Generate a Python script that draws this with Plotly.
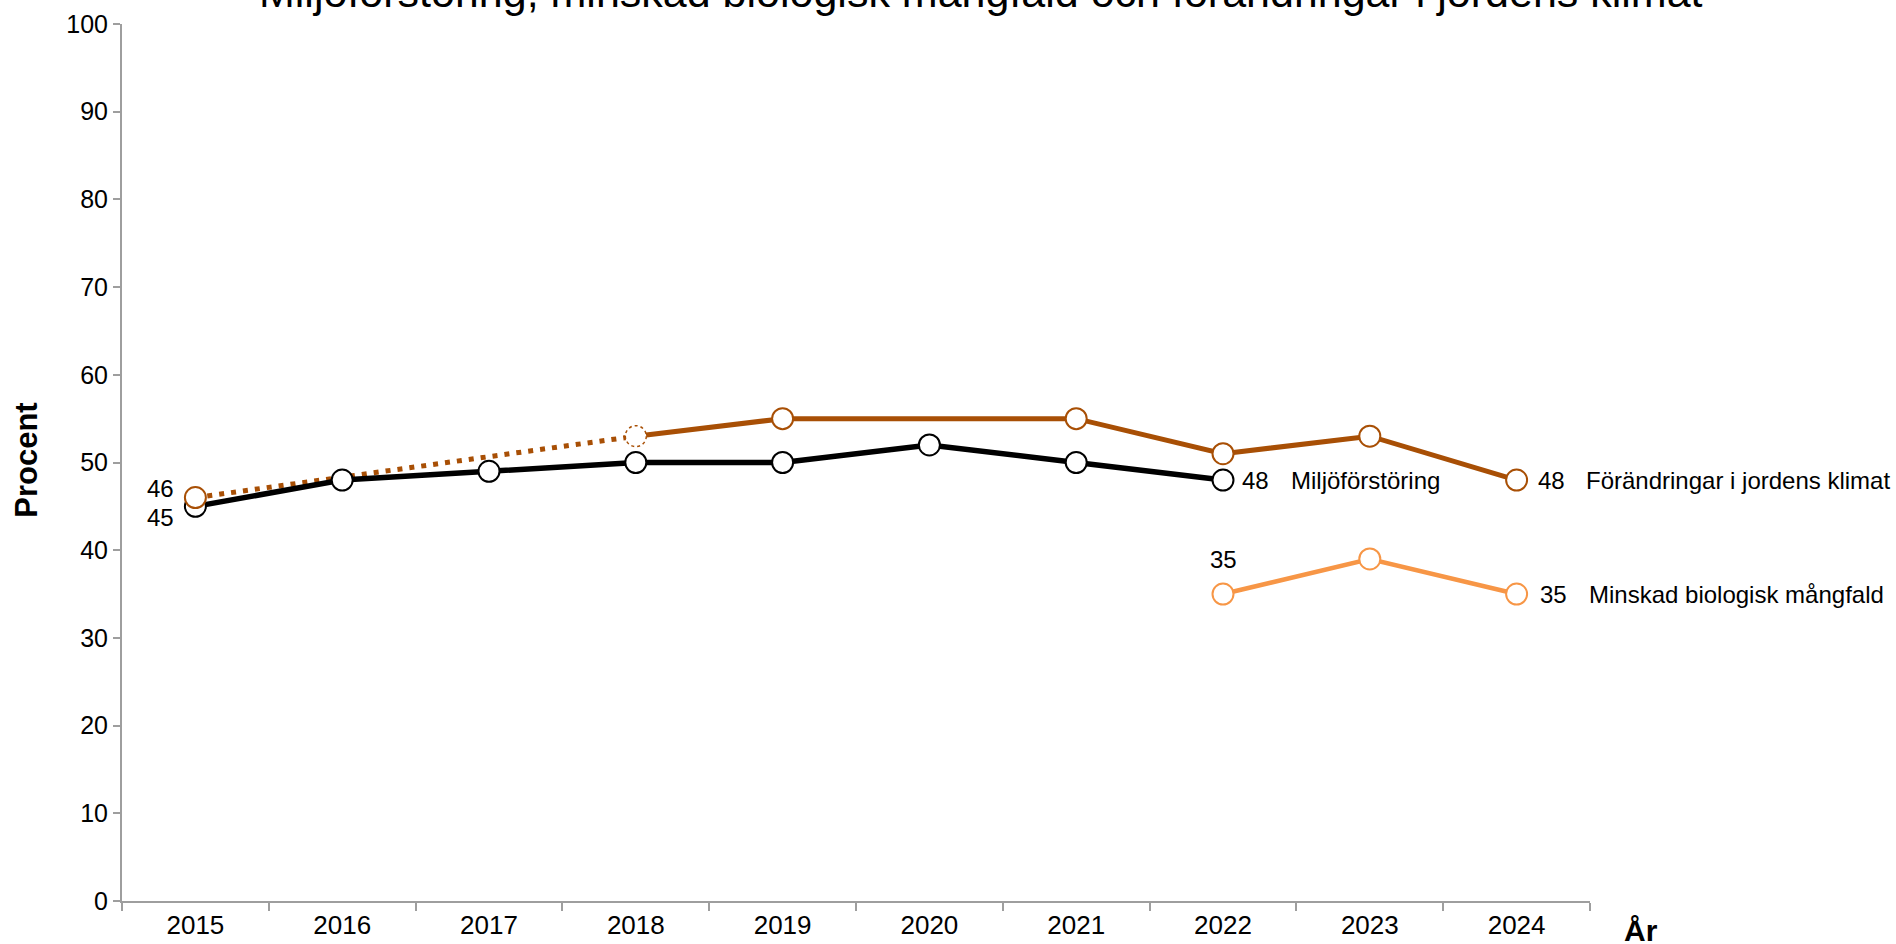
import plotly.graph_objects as go

years = ["2015", "2016", "2017", "2018", "2019", "2020", "2021", "2022", "2023", "2024"]
miljo = [45, 48, 49, 50, 50, 52, 50, 48, None, None]
klimat = [46, None, None, 53, 55, None, 55, 51, 53, 48]
mangfald = [None, None, None, None, None, None, None, 35, 39, 35]

name_miljo = "Miljöförstöring"
name_klimat = "Förändringar i jordens klimat"
name_mangfald = "Minskad biologisk mångfald"
title_text = "Miljöförstöring, minskad biologisk mångfald och förändringar i jordens klimat"

BLACK = "#000000"
BROWN = "#A84F05"
ORANGE = "#F79646"
AXIS = "#9E9E9E"
FONT = "Liberation Sans, Arial, sans-serif"

split = 3  # index of first survey of the solid brown series (2018)

fig = go.Figure()

# Dotted brown segment (2015-2018)
fig.add_trace(go.Scatter(
    x=years[:split + 1], y=klimat[:split + 1], mode="lines", connectgaps=True,
    line=dict(color=BROWN, width=5, dash="5px,7px"), hoverinfo="skip", showlegend=False))

# Black series
fig.add_trace(go.Scatter(
    x=years, y=miljo, mode="lines+markers", name=name_miljo,
    line=dict(color=BLACK, width=5.5),
    marker=dict(size=21, color="white", line=dict(color=BLACK, width=2)), showlegend=False))

# Solid brown segment (2018-2024)
fig.add_trace(go.Scatter(
    x=years[split:], y=klimat[split:], mode="lines", connectgaps=True,
    line=dict(color=BROWN, width=5), hoverinfo="skip", showlegend=False))
fig.add_trace(go.Scatter(
    x=[y for i, y in enumerate(years) if klimat[i] is not None and i != split],
    y=[v for i, v in enumerate(klimat) if v is not None and i != split],
    mode="markers", name=name_klimat,
    marker=dict(size=21, color="white", line=dict(color=BROWN, width=2)), showlegend=False))

# Light orange series
fig.add_trace(go.Scatter(
    x=years, y=mangfald, mode="lines+markers", name=name_mangfald,
    line=dict(color=ORANGE, width=4.5),
    marker=dict(size=21, color="white", line=dict(color=ORANGE, width=2)), showlegend=False))

# Dotted-outline marker at 2018 for brown series
fig.add_shape(type="circle", xref="x", yref="y", xsizemode="pixel", ysizemode="pixel",
              xanchor=split, yanchor=klimat[split], x0=-10.5, x1=10.5, y0=-10.5, y1=10.5,
              line=dict(color=BROWN, width=1.5, dash="dot"), fillcolor="white", layer="above")

ann = []
def lab(i, y, text, xs=0, ys=0, xanchor="left"):
    ann.append(dict(x=i, y=y, xref="x", yref="y", text=text, showarrow=False,
                    xanchor=xanchor, yanchor="middle", xshift=xs, yshift=ys,
                    font=dict(size=24, color="black", family=FONT)))

# end labels
lab(7, miljo[7], str(miljo[7]), xs=17)
lab(7, miljo[7], name_miljo, xs=66)
lab(9, klimat[9], str(klimat[9]), xs=19)
lab(9, klimat[9], name_klimat, xs=67)
lab(9, mangfald[9], str(mangfald[9]), xs=21)
lab(9, mangfald[9], name_mangfald, xs=70)
# start labels
lab(0, klimat[0], str(klimat[0]), xs=-19, ys=9, xanchor="right")
lab(0, miljo[0], str(miljo[0]), xs=-19, ys=-11, xanchor="right")
lab(7, mangfald[7], str(mangfald[7]), xs=0, ys=35, xanchor="center")

# title, axis titles
ann.append(dict(x=0.585, y=1.0366, xref="paper", yref="paper", text=title_text, showarrow=False,
                xanchor="center", yanchor="middle", font=dict(size=43, color="black", family=FONT)))
ann.append(dict(x=1.0347, y=-0.0342, xref="paper", yref="paper", text="<b>År</b>", showarrow=False,
                xanchor="center", yanchor="middle", font=dict(size=30, color="black", family=FONT)))
ann.append(dict(x=-0.0647, y=0.502, xref="paper", yref="paper", text="<b>Procent</b>", showarrow=False,
                textangle=-90, xanchor="center", yanchor="middle",
                font=dict(size=31, color="black", family=FONT)))

fig.update_layout(
    width=1896, height=944,
    margin=dict(l=122, r=306, t=24, b=43),
    paper_bgcolor="white", plot_bgcolor="white",
    font=dict(family=FONT, size=24, color="black"),
    annotations=ann,
    xaxis=dict(type="category", categoryorder="array", categoryarray=years,
               range=[-0.5, len(years) - 0.5], tickson="boundaries", automargin=False,
               showline=True, linecolor=AXIS, linewidth=2, ticks="outside", ticklen=8,
               tickcolor=AXIS, tickwidth=1.5, showgrid=False, zeroline=False,
               tickfont=dict(size=26, color="black")),
    yaxis=dict(range=[0, 100], dtick=10, tick0=0, showline=True, linecolor=AXIS, linewidth=2,
               automargin=False,
               ticks="outside", ticklen=7, tickcolor=AXIS, tickwidth=1.5, showgrid=False,
               zeroline=False, tickfont=dict(size=25, color="black")),
)

fig.write_html("out.html", config={"displayModeBar": False},
               post_script="document.body.style.margin='0px';")
